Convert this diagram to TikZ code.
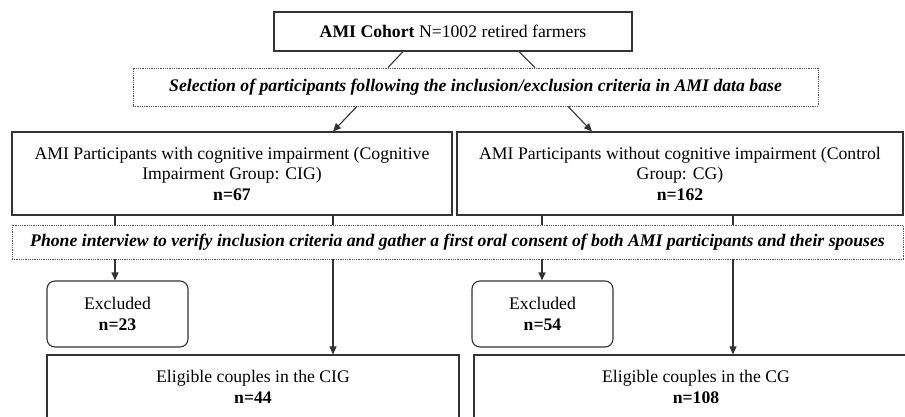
\documentclass[tikz,border=0pt]{standalone}
\usepackage{fontspec}
\setmainfont{Liberation Serif}
\usetikzlibrary{arrows.meta}
\definecolor{frame}{HTML}{333333}
\definecolor{dots}{HTML}{555555}
\newcommand{\chartfont}{\fontsize{17.7}{20.5}\selectfont}

\begin{document}
\begin{tikzpicture}[x=1pt,y=-1pt,font=\chartfont,line width=1.1pt,
  box/.style={draw=frame,align=center,inner sep=0pt},
  stage/.style={draw=dots,densely dotted,line width=0.8pt,inner sep=0pt,
    font=\chartfont\bfseries\itshape},
  excl/.style={box,rounded corners=8pt,minimum width=141pt,minimum height=66pt},
  link/.style={draw=frame},
  arrow/.style={link,-{Triangle[length=8pt,width=7pt]}}]
\clip (0,0) rectangle (905,417);

\node[box,minimum width=358pt,minimum height=39pt] (cohort) at (453,31.5)
  {\textbf{AMI Cohort} N=1002 retired farmers};
\node[stage,minimum width=685pt,minimum height=38pt] (select) at (475.5,87)
  {Selection of participants following the inclusion/exclusion criteria in AMI data base};

\node[box,minimum width=440pt,minimum height=83pt] (cig) at (232,173.5)
  {AMI Participants with cognitive impairment (Cognitive\\Impairment Group: CIG)\\\textbf{n=67}};
\node[box,minimum width=446pt,minimum height=83pt] (cg) at (680,173.5)
  {AMI Participants without cognitive impairment (Control\\Group: CG)\\\textbf{n=162}};

\node[stage,minimum width=891pt,minimum height=34pt] (phone) at (457.5,242)
  {Phone interview to verify inclusion criteria and gather a first oral consent of both AMI participants and their spouses};

\node[excl] (exA) at (117.5,314) {Excluded\\\textbf{n=23}};
\node[excl] (exB) at (542.5,314) {Excluded\\\textbf{n=54}};

\node[box,minimum width=412pt,minimum height=64pt] (eligA) at (253,387)
  {Eligible couples in the CIG\\\textbf{n=44}};
\node[box,minimum width=444pt,minimum height=64pt] (eligB) at (696,387)
  {Eligible couples in the CG\\\textbf{n=108}};

% drop columns under the two groups
\coordinate (colA) at (115,0);
\coordinate (colB) at (333,0);
\coordinate (colC) at (542,0);
\coordinate (colD) at (733,0);

\draw[link] ([xshift=-50pt]cohort.south) -- ([xshift=-87.5pt]select.north);
\draw[link] ([xshift=66pt]cohort.south) -- ([xshift=59.5pt]select.north);
\draw[arrow] ([xshift=-118.5pt]select.south) -- ([xshift=101pt]cig.north);
\draw[arrow] ([xshift=92.5pt]select.south) -- ([xshift=-88pt]cg.north);

\foreach \col in {colA,colB,colC,colD}
  \draw[link] (cig.south -| \col) -- (phone.north -| \col);

\draw[arrow] (phone.south -| colA) -- (exA.north -| colA);
\draw[arrow] (phone.south -| colB) -- (eligA.north -| colB);
\draw[arrow] (phone.south -| colC) -- (exB.north -| colC);
\draw[arrow] (phone.south -| colD) -- (eligB.north -| colD);
\end{tikzpicture}
\end{document}
